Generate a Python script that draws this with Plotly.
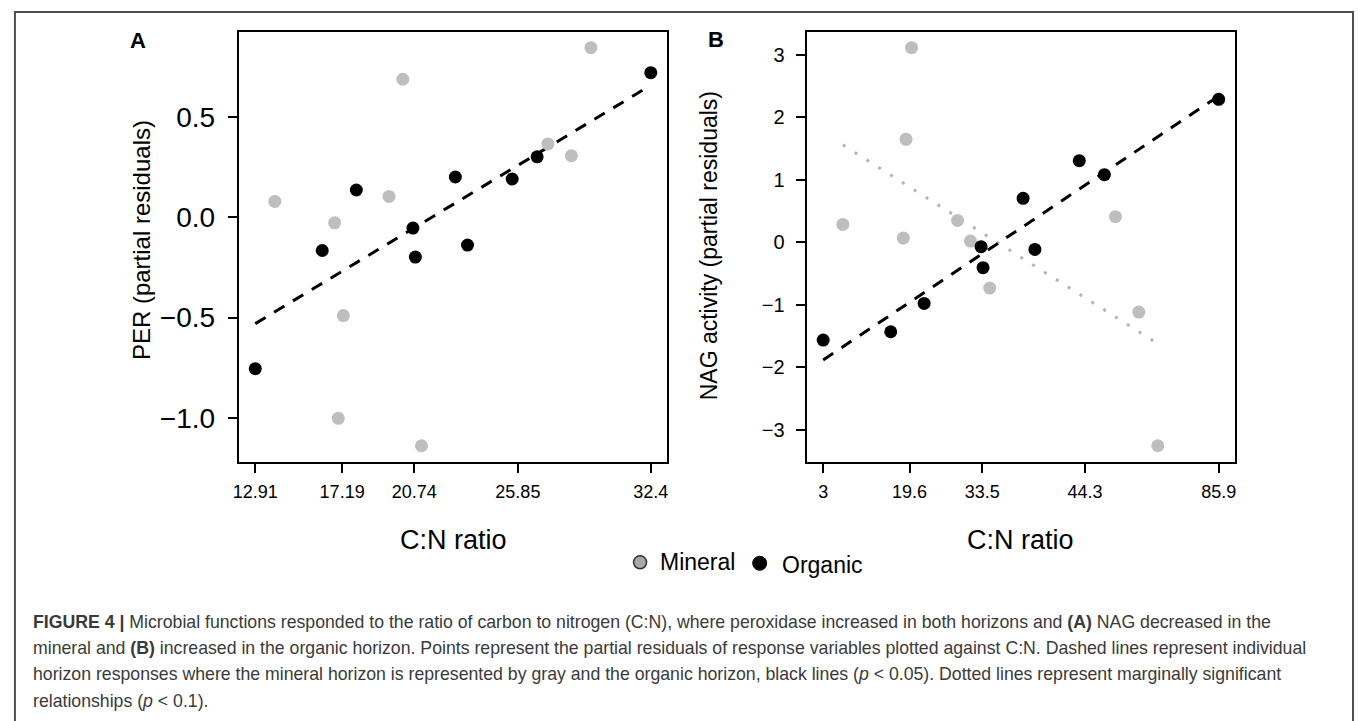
import plotly.graph_objects as go

# ---------------- Panel A: PER partial residuals vs C:N ----------------
per_min_cn = [13.87, 16.82, 17.25, 17.00, 19.50, 20.18, 21.10, 27.33, 28.49, 29.45]
per_min_res = [0.08, -0.027, -0.49, -1.003, 0.105, 0.69, -1.14, 0.367, 0.308, 0.848]
per_org_cn = [12.91, 16.21, 17.89, 20.68, 20.80, 22.77, 23.37, 25.57, 26.80, 32.40]
per_org_res = [-0.755, -0.165, 0.137, -0.053, -0.198, 0.202, -0.138, 0.192, 0.303, 0.723]
per_fit_cn = [12.91, 32.40]
per_fit_res = [-0.53, 0.66]
per_ticks = [12.91, 17.19, 20.74, 25.85, 32.4]
per_tick_text = ["12.91", "17.19", "20.74", "25.85", "32.4"]
per_yticks = [-1.0, -0.5, 0.0, 0.5]
per_ytick_text = ["\u22121.0", "\u22120.5", "0.0", "0.5"]

# ---------------- Panel B: NAG partial residuals vs C:N ----------------
# x is the position along the (rescaled) C:N axis, 0 = lowest, 100 = highest
nag_tick_pos = [0, 21.85, 40.2, 66.2, 100]
nag_tick_text = ["3", "19.6", "33.5", "44.3", "85.9"]
nag_min_x = [4.97, 22.34, 20.95, 20.26, 33.96, 37.24, 42.1, 73.9, 79.8, 84.6]
nag_min_res = [0.288, 3.115, 1.648, 0.069, 0.352, 0.021, -0.731, 0.411, -1.115, -3.253]
nag_org_x = [0, 17.08, 25.52, 39.92, 40.42, 50.55, 53.53, 64.75, 71.1, 100]
nag_org_res = [-1.563, -1.429, -0.976, -0.069, -0.405, 0.704, -0.112, 1.307, 1.083, 2.288]
nag_org_fit_x = [0, 100]
nag_org_fit = [-1.88, 2.34]
nag_min_fit_x = [4.97, 84.6]
nag_min_fit = [1.56, -1.62]
nag_yticks = [-3, -2, -1, 0, 1, 2, 3]
nag_ytick_text = ["\u22123", "\u22122", "\u22121", "0", "1", "2", "3"]

GRAY = "#bebebe"
FONT = "Liberation Sans, Arial, Helvetica, sans-serif"
W, H = 1358, 721


def padded(vals):
    lo, hi = min(vals), max(vals)
    d = (hi - lo) * 0.04
    return [lo - d, hi + d]


fig = go.Figure()

# Panel A
fig.add_trace(go.Scatter(x=per_fit_cn, y=per_fit_res, mode="lines",
                         line=dict(color="black", width=3, dash="12px,10px"),
                         xaxis="x", yaxis="y", showlegend=False, hoverinfo="skip"))
fig.add_trace(go.Scatter(x=per_min_cn, y=per_min_res, mode="markers",
                         marker=dict(color=GRAY, size=13, line=dict(width=0)),
                         xaxis="x", yaxis="y", showlegend=False))
fig.add_trace(go.Scatter(x=per_org_cn, y=per_org_res, mode="markers",
                         marker=dict(color="black", size=13, line=dict(width=0)),
                         xaxis="x", yaxis="y", showlegend=False))

# Panel B
fig.add_trace(go.Scatter(x=nag_min_fit_x, y=nag_min_fit, mode="lines",
                         line=dict(color="#b4b4b4", width=3, dash="3px,11px"),
                         xaxis="x2", yaxis="y2", showlegend=False, hoverinfo="skip"))
fig.add_trace(go.Scatter(x=nag_min_x, y=nag_min_res, mode="markers",
                         marker=dict(color=GRAY, size=13, line=dict(width=0)),
                         xaxis="x2", yaxis="y2", showlegend=False))
fig.add_trace(go.Scatter(x=nag_org_fit_x, y=nag_org_fit, mode="lines",
                         line=dict(color="black", width=3, dash="12px,10px"),
                         xaxis="x2", yaxis="y2", showlegend=False, hoverinfo="skip"))
fig.add_trace(go.Scatter(x=nag_org_x, y=nag_org_res, mode="markers",
                         marker=dict(color="black", size=13, line=dict(width=0)),
                         xaxis="x2", yaxis="y2", showlegend=False))

ydom = [(H - 461.7) / H, (H - 31.7) / H]
axis_common = dict(showline=True, mirror=True, linecolor="black", linewidth=1.5,
                   ticks="outside", ticklen=10, tickwidth=2, tickcolor="black",
                   showgrid=False, zeroline=False)

fig.update_layout(
    width=W, height=H,
    margin=dict(l=0, r=0, t=0, b=0),
    paper_bgcolor="white", plot_bgcolor="white",
    font=dict(family=FONT, color="black"),
    xaxis=dict(domain=[234 / W, 664 / W], range=padded(per_org_cn + per_min_cn),
               tickvals=per_ticks, ticktext=per_tick_text,
               tickfont=dict(size=18), ticklabelstandoff=3, anchor="y", **axis_common),
    yaxis=dict(domain=ydom, range=padded(per_org_res + per_min_res),
               tickvals=per_yticks, ticktext=per_ytick_text,
               tickfont=dict(size=28), ticklabelstandoff=7, anchor="x", **axis_common),
    xaxis2=dict(domain=[805.7 / W, 1235.7 / W], range=padded(nag_org_x + nag_min_x),
                tickvals=nag_tick_pos, ticktext=nag_tick_text,
                tickfont=dict(size=18), ticklabelstandoff=3, anchor="y2", **axis_common),
    yaxis2=dict(domain=ydom, range=padded(nag_org_res + nag_min_res),
                tickvals=nag_yticks, ticktext=nag_ytick_text,
                tickfont=dict(size=20), ticklabelstandoff=7, anchor="x2", **axis_common),
)


def px(x):
    return x / W


def py(y):
    return 1 - y / H


ann = []
# panel letters
ann.append(dict(text="<b>A</b>", x=px(132), y=py(41), font=dict(size=22)))
ann.append(dict(text="<b>B</b>", x=px(714), y=py(40), font=dict(size=22)))
# y-axis titles
ann.append(dict(text="PER (partial residuals)", x=px(135), y=py(240), textangle=-90,
                font=dict(size=24)))
ann.append(dict(text="NAG activity (partial residuals)", x=px(707), y=py(246), textangle=-90,
                font=dict(size=23)))
# x-axis titles
ann.append(dict(text="C:N ratio", x=px(449), y=py(540), font=dict(size=27)))
ann.append(dict(text="C:N ratio", x=px(1020.7), y=py(540), font=dict(size=27)))
# legend labels
ann.append(dict(text="Mineral", x=px(655), y=py(562), xanchor="left", font=dict(size=23)))
ann.append(dict(text="Organic", x=px(778), y=py(565), xanchor="left", font=dict(size=23)))

# caption
cap_lines = [
    "<b>FIGURE 4 |</b> Microbial functions responded to the ratio of carbon to nitrogen (C:N), where peroxidase increased in both horizons and <b>(A)</b> NAG decreased in the",
    "mineral and <b>(B)</b> increased in the organic horizon. Points represent the partial residuals of response variables plotted against C:N. Dashed lines represent individual",
    "horizon responses where the mineral horizon is represented by gray and the organic horizon, black lines (<i>p</i> &lt; 0.05). Dotted lines represent marginally significant",
    "relationships (<i>p</i> &lt; 0.1).",
]
cap_y = [622, 648, 674, 701]
for line, yy in zip(cap_lines, cap_y):
    ann.append(dict(text=line, x=px(24), y=py(yy), xanchor="left",
                    font=dict(size=17.7, color="#3a3a3a")))

for a in ann:
    a.setdefault("xanchor", "center")
    a.update(xref="paper", yref="paper", yanchor="middle", showarrow=False)
fig.update_layout(annotations=ann)

# page frame and legend symbols
shapes = [
    dict(type="rect", xref="paper", yref="paper", x0=px(8), x1=px(1355), y0=py(740), y1=py(12),
         line=dict(color="#505050", width=2), fillcolor="rgba(0,0,0,0)"),
    dict(type="circle", xref="paper", yref="paper", xsizemode="pixel", ysizemode="pixel",
         xanchor=px(637.3), yanchor=py(562.3), x0=-6.5, x1=6.5, y0=-6.5, y1=6.5,
         fillcolor="#a8a8a8", line=dict(color="#333333", width=1.5)),
    dict(type="circle", xref="paper", yref="paper", xsizemode="pixel", ysizemode="pixel",
         xanchor=px(757.7), yanchor=py(563.3), x0=-7, x1=7, y0=-7, y1=7,
         fillcolor="black", line=dict(color="black", width=1)),
]
fig.update_layout(shapes=shapes)

fig.write_html("out.html")
